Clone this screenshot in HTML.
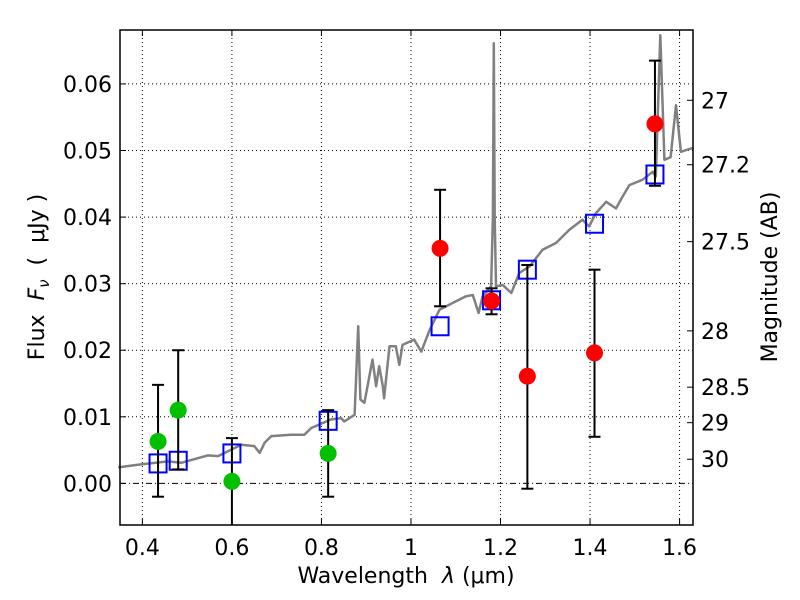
<!DOCTYPE html>
<html><head><meta charset="utf-8">
<style>
html,body{margin:0;padding:0;background:#fff;}
svg{display:block;font-family:"DejaVu Sans","Liberation Sans",sans-serif;}
</style></head>
<body>
<svg id="chart" width="800" height="600" viewBox="0 0 800 600" xmlns="http://www.w3.org/2000/svg">
<rect x="0" y="0" width="800" height="600" fill="#fff"/>
<g id="grid"></g>
<g id="spec"></g>
<g id="marks"></g>
<g id="axes"></g>
<text x="406" y="583" font-size="22" text-anchor="middle" xml:space="preserve">Wavelength  <tspan font-style="italic">λ</tspan> (μm)</text>
<text transform="translate(44,277) rotate(-90)" font-size="22" text-anchor="middle" xml:space="preserve">Flux  <tspan font-style="italic">F</tspan><tspan font-style="italic" font-size="15" dy="5">ν</tspan><tspan dy="-5">  (  μJy )</tspan></text>
<text transform="translate(777,277) rotate(-90)" font-size="22" text-anchor="middle">Magnitude (AB)</text>
</svg>
<script>
const xTicks=[0.4,0.6,0.8,1.0,1.2,1.4,1.6];
const xTickLabels=["0.4","0.6","0.8","1","1.2","1.4","1.6"];
const yTicks=[0,0.01,0.02,0.03,0.04,0.05,0.06];
const yTickLabels=["0.00","0.01","0.02","0.03","0.04","0.05","0.06"];
const magTicks=[27,27.2,27.5,28,28.5,29,30];
const magTickLabels=["27","27.2","27.5","28","28.5","29","30"];
const specWave=[0.346,0.39,0.457,0.487,0.546,0.569,0.621,0.650,0.662,0.673,0.688,0.732,0.762,0.777,0.821,0.844,0.851,0.874,0.882,0.887,0.896,0.914,0.922,0.929,0.937,0.940,0.952,0.966,0.974,0.981,1.007,1.023,1.042,1.064,1.093,1.123,1.138,1.151,1.160,1.179,1.183,1.185,1.187,1.190,1.205,1.224,1.242,1.265,1.294,1.324,1.354,1.383,1.398,1.413,1.436,1.458,1.473,1.488,1.517,1.540,1.547,1.557,1.566,1.580,1.592,1.603,1.625,1.63];
const specFlux=[0.0024,0.0028,0.0033,0.0031,0.0042,0.0041,0.0058,0.0056,0.0046,0.0061,0.0071,0.0073,0.0073,0.0083,0.0096,0.0098,0.0093,0.0103,0.0236,0.0126,0.0121,0.0186,0.0146,0.0176,0.0146,0.0128,0.0206,0.0206,0.0178,0.0208,0.0216,0.0198,0.0231,0.0261,0.0271,0.0281,0.0283,0.0256,0.0281,0.0296,0.040,0.0661,0.040,0.0296,0.0298,0.0286,0.0316,0.0326,0.0351,0.0361,0.0381,0.0396,0.0386,0.0406,0.0423,0.0413,0.0431,0.0448,0.0456,0.0468,0.0461,0.0673,0.0486,0.049,0.0568,0.0498,0.0503,0.0503];
const greenWave=[0.435,0.48,0.6,0.815];
const greenFlux=[0.0063,0.011,0.0003,0.0045];
const greenHi=[0.0148,0.0200,0.0068,0.0110];
const greenLo=[-0.0020,0.0021,-0.0065,-0.0020];
const redWave=[1.065,1.18,1.26,1.41,1.545];
const redFlux=[0.0353,0.0274,0.0161,0.0196,0.0540];
const redHi=[0.0441,0.0293,0.0328,0.0321,0.0635];
const redLo=[0.0266,0.0254,-0.0008,0.0070,0.0447];
const modelWave=[0.435,0.48,0.6,0.815,1.065,1.18,1.26,1.41,1.545];
const modelFlux=[0.0030,0.0034,0.0045,0.0094,0.0236,0.0275,0.0321,0.0390,0.0464];

const L=120,R=693,T=30,B=525;
const xMin=0.35,xMax=1.63,yMin=-0.00625,yMax=0.0681;
const X=v=>L+(v-xMin)/(xMax-xMin)*(R-L);
const Y=v=>B-(v-yMin)/(yMax-yMin)*(B-T);
const NS="http://www.w3.org/2000/svg";
function mk(tag,parent,attrs){const e=document.createElementNS(NS,tag);for(const k in attrs)e.setAttribute(k,attrs[k]);parent.appendChild(e);return e;}
const grid=document.getElementById('grid'),spec=document.getElementById('spec'),marks=document.getElementById('marks'),axes=document.getElementById('axes');

xTicks.forEach((t,i)=>{
  const g=mk('line',grid,{x1:X(t),x2:X(t),y1:T,y2:B,stroke:'#000','stroke-width':1,'stroke-dasharray':'1,3'});
  
  
  const tk=mk('line',axes,{x1:X(t),x2:X(t),y1:B,y2:B-6,stroke:'#000'});
  
  
  const tk2=mk('line',axes,{x1:X(t),x2:X(t),y1:T,y2:T+6,stroke:'#000'});
  
  
  const lb=mk('text',axes,{x:X(t),y:B+30,'font-size':22,'text-anchor':'middle'});
  lb.textContent=xTickLabels[i];
  
  
});
yTicks.forEach((t,i)=>{
  const g=mk('line',grid,{x1:L,x2:R,y1:Y(t),y2:Y(t),stroke:'#000','stroke-width':1,'stroke-dasharray':t===0?'6,3,1,3':'1,3'});
  
  
  const tk=mk('line',axes,{x1:L,x2:L+6,y1:Y(t),y2:Y(t),stroke:'#000'});
  
  
  const lb=mk('text',axes,{x:L-8,y:Y(t)+8,'font-size':22,'text-anchor':'end'});
  lb.textContent=yTickLabels[i];
  
  
});
magTicks.forEach((m,i)=>{
  const f=Math.pow(10,(23.9-m)/2.5);
  const tk=mk('line',axes,{x1:R-6,x2:R,y1:Y(f),y2:Y(f),stroke:'#000'});
  
  
  const lb=mk('text',axes,{x:R+8,y:Y(f)+8,'font-size':22,'text-anchor':'start'});
  lb.textContent=magTickLabels[i];
  
  
});
const pts=specWave.map((w,i)=>X(w).toFixed(1)+','+Y(specFlux[i]).toFixed(1)).join(' ');
const pl=mk('polyline',spec,{points:pts,fill:'none',stroke:'#808080','stroke-width':2.5,'stroke-linejoin':'round'});



function errbar(w,lo,hi){
  const x=X(w),y1=Y(hi),y2=Math.min(Y(lo),B);
  const l=mk('line',marks,{x1:x,x2:x,y1:y1,y2:y2,stroke:'#000','stroke-width':2});
  
  
  const c1=mk('line',marks,{x1:x-6,x2:x+6,y1:y1,y2:y1,stroke:'#000','stroke-width':2});
  
  
  if(Y(lo)<=B){const c2=mk('line',marks,{x1:x-6,x2:x+6,y1:Y(lo),y2:Y(lo),stroke:'#000','stroke-width':2});
  
  }
}
modelWave.forEach((w,i)=>{
  const s=mk('rect',marks,{x:X(w)-8.5,y:Y(modelFlux[i])-9,width:17,height:18,fill:'none',stroke:'#0000ff','stroke-width':2});
  
  
});
greenWave.forEach((w,i)=>{
  errbar(w,greenLo[i],greenHi[i]);
  const c=mk('circle',marks,{cx:X(w),cy:Y(greenFlux[i]),r:8.5,fill:'#00c000'});
  
  
});
redWave.forEach((w,i)=>{
  errbar(w,redLo[i],redHi[i]);
  const c=mk('circle',marks,{cx:X(w),cy:Y(redFlux[i]),r:8.5,fill:'#ff0000'});
  
  
});
const fr=mk('rect',axes,{x:L,y:T,width:R-L,height:B-T,fill:'none',stroke:'#000','stroke-width':1.5});


</script>
</body></html>
